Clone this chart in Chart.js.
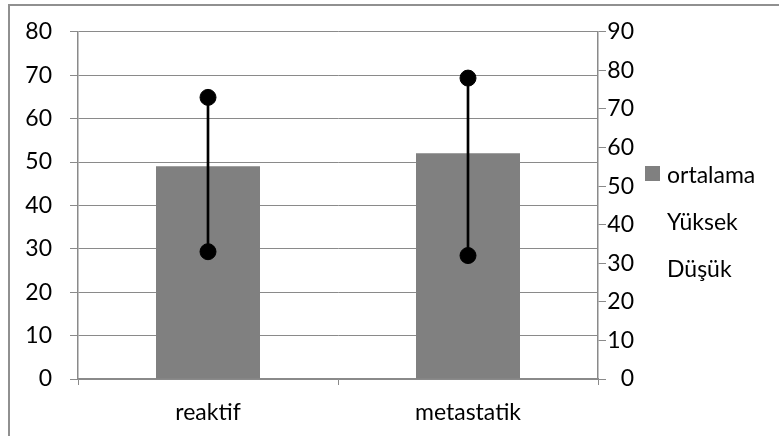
<!DOCTYPE html>
<html>
<head>
<meta charset="utf-8">
<script src="https://cdn.jsdelivr.net/npm/chart.js@4.4.1/dist/chart.umd.min.js"></script>
<style>
  body { margin: 0; background: #fff; }
  #wrap { position: relative; width: 779px; height: 436px; overflow: hidden; }
  #frame { position: absolute; left: 8px; top: 4px; width: 800px; height: 460px; border: 2px solid #909090; }
  canvas { position: absolute; left: 0; top: 0; }
  #legend { position: absolute; left: 645px; top: 150px; font-family: Lato, sans-serif; font-size: 23px; color: #000; }
  #legend div { height: 47px; line-height: 36px; display: flex; align-items: center; }
  #legend span.box { display: inline-block; width: 15px; height: 15px; margin-right: 7px; }
</style>
</head>
<body>
<div id="wrap">
  <div id="frame"></div>
  <canvas id="chart" width="779" height="436"></canvas>
  <div id="legend"></div>
</div>
<script>
const categories = ['reaktif', 'metastatik'];
const ortalama = [49, 52];
const yuksek = [73, 78];
const dusuk = [33, 32];
const leftTicks = [0, 80, 10];
const rightTicks = [0, 90, 10];

const gray = '#8a8a8a';
const font = { family: 'Lato, sans-serif', size: 23 };

const ctx = document.getElementById('chart').getContext('2d');

const chart = new Chart(ctx, {
    type: 'bar',
    data: {
        labels: categories,
        datasets: [{
            label: 'ortalama',
            data: ortalama,
            backgroundColor: '#808080',
            yAxisID: 'y',
            barPercentage: 0.4,
            categoryPercentage: 1,
            order: 3
        }, {
            label: 'hilo',
            data: categories.map((c, i) => [dusuk[i], yuksek[i]]),
            backgroundColor: '#000',
            yAxisID: 'y1',
            barThickness: 2,
            grouped: false,
            order: 2
        }, {
            type: 'line',
            label: 'Yüksek',
            data: yuksek,
            yAxisID: 'y1',
            showLine: false,
            pointRadius: 8,
            pointBackgroundColor: '#000',
            pointBorderColor: '#000',
            order: 1
        }, {
            type: 'line',
            label: 'Düşük',
            data: dusuk,
            yAxisID: 'y1',
            showLine: false,
            pointRadius: 8,
            pointBackgroundColor: '#000',
            pointBorderColor: '#000',
            order: 0
        }]
    },
    options: {
        responsive: false,
        animation: false,
        layout: { padding: { top: 31, right: 145, left: 0, bottom: 0 } },
        plugins: { legend: { display: false }, tooltip: { enabled: false } },
        scales: {
            x: {
                offset: true,
                grid: { offset: true, drawOnChartArea: false, tickLength: 6, color: gray },
                border: { color: gray, width: 1.5 },
                ticks: { font: font, color: '#000', padding: 14 },
                afterFit: s => { s.height = 57; }
            },
            y: {
                position: 'left',
                min: leftTicks[0], max: leftTicks[1],
                ticks: { stepSize: leftTicks[2], font: font, color: '#000', padding: 18 },
                grid: { color: gray, tickLength: 8 },
                border: { color: gray, width: 1.5 },
                afterFit: s => { s.width = 78; }
            },
            y1: {
                position: 'right',
                min: rightTicks[0], max: rightTicks[1],
                ticks: { stepSize: rightTicks[2], font: font, color: '#000', crossAlign: 'far' },
                grid: { drawOnChartArea: false, color: gray, tickLength: 8 },
                border: { color: gray, width: 1.5 },
                afterFit: s => { s.width = 36; }
            }
        }
    }
});

// legend: only ortalama has a box, the point series show text only
const legend = document.getElementById('legend');
chart.data.datasets.filter(d => d.label !== 'hilo').forEach(d => {
    const row = document.createElement('div');
    const box = document.createElement('span');
    box.className = 'box';
    if (d.type !== 'line') box.style.background = d.backgroundColor;
    row.appendChild(box);
    row.appendChild(document.createTextNode(d.label));
    legend.appendChild(row);
});
</script>
</body>
</html>
